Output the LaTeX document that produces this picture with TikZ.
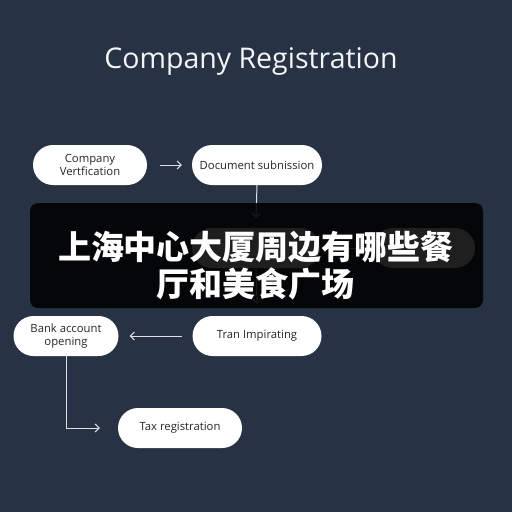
\documentclass[tikz,border=0pt]{standalone}
\usepackage{fontspec}
\setmainfont{Open Sans}
\newfontfamily\cjk{Noto Sans CJK SC}
\usetikzlibrary{arrows.meta}
\definecolor{bgnavy}{HTML}{283245}
\definecolor{inktext}{HTML}{262626}
\begin{document}
\begin{tikzpicture}[
    x=1pt,y=-1pt,
    stage/.style={rectangle,rounded corners=20pt,fill=white,text=inktext,
        minimum height=40pt,align=center,font=\fontsize{11.3}{13}\selectfont,inner sep=2pt},
    flow/.style={draw=white!85!bgnavy,line width=1pt},
    >={Straight Barb[length=4pt,width=8pt]}
]
\useasboundingbox[fill=bgnavy] (0,0) rectangle (512,512);

\node[text=white!95!bgnavy,font=\fontsize{28.5}{32}\selectfont] (title) at (251,61) {Company Registration};

\node[stage,minimum width=114pt] (verif) at (90,165) {Company\\Vertfication};
\node[stage,minimum width=130pt] (docs) at (257,165) {Document subnission};
\node[stage,minimum width=128pt] (hidA) at (256,248) {};
\node[stage,minimum width=102pt] (hidB) at (424,248) {};
\node[stage,minimum width=105pt] (bank) at (66,336) {Bank account\\opening};
\node[stage,minimum width=129pt] (tran) at (257,336) {Tran Impirating};
\node[stage,minimum width=124pt] (tax) at (180,428) {Tax registration};

\coordinate (bend) at (66,428);

\draw[flow,->] ([xshift=13pt]verif.east) -- ([xshift=-10pt]docs.west);
\draw[flow,->] (docs.south) -- ([yshift=10pt]hidA.north);
\draw[flow,->] ([xshift=8pt]hidA.east) -- ([xshift=-12pt]hidB.west);
\draw[flow,->] (hidA.south) -- ([yshift=12pt]tran.north);
\draw[flow,->] ([xshift=-10pt]tran.west) -- ([xshift=11pt]bank.east);
\draw[flow,->] (bank.south) -- (bend) -- ([xshift=-18pt]tax.west);

% caption band over the flow
\fill[black,opacity=0.88,rounded corners=8pt] (30,203) rectangle (483,308);
\node[text=white,font=\cjk\bfseries\fontsize{33}{37}\selectfont,align=center] (caption) at (256,266)
    {上海中心大厦周边有哪些餐\\厅和美食广场};
\end{tikzpicture}
\end{document}
